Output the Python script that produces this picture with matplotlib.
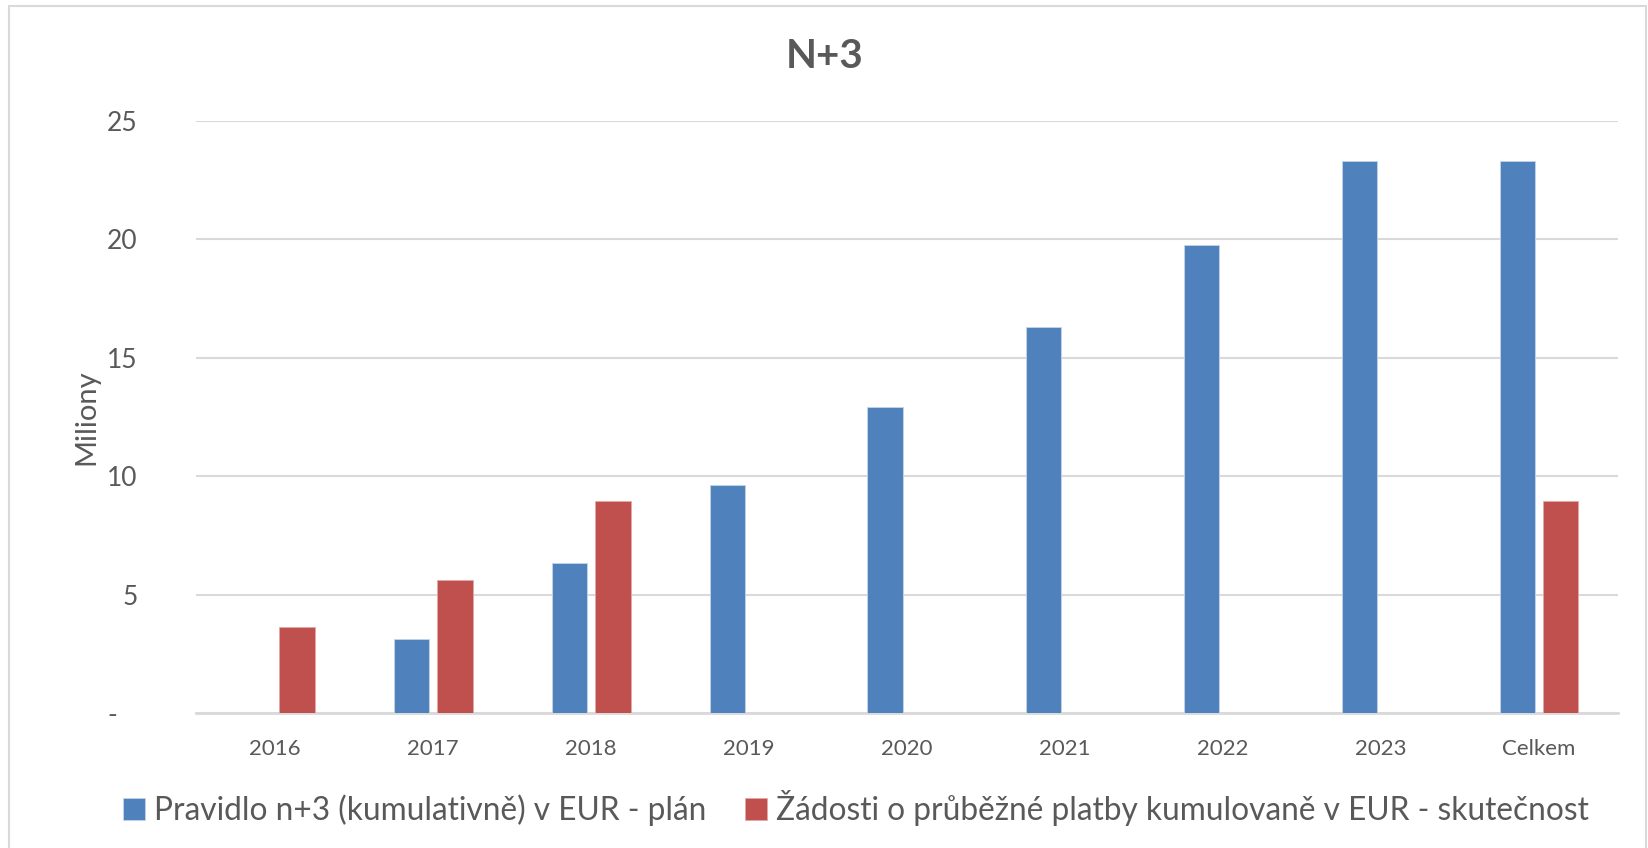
import matplotlib
matplotlib.use('Agg')
import matplotlib.pyplot as plt
import numpy as np
from matplotlib.patches import Rectangle

# data (miliony EUR)
categories = ['2016', '2017', '2018', '2019', '2020', '2021', '2022', '2023', 'Celkem']
plan = [0, 3.14, 6.32, 9.61, 12.94, 16.32, 19.78, 23.32, 23.32]
skutecnost = [3.63, 5.62, 8.97, 0, 0, 0, 0, 0, 8.97]
series_names = ['Pravidlo n+3 (kumulativně) v EUR - plán',
                'Žádosti o průběžné platby kumulovaně v EUR - skutečnost']
y_ticks = [0, 5, 10, 15, 20, 25]
y_tick_labels = ['-   ', '5', '10', '15', '20', '25']

BLUE = '#4f81bd'
RED = '#c0504d'
TXT = '#595959'
GRID = '#d9d9d9'

plt.rcParams['font.family'] = ['Lato', 'DejaVu Sans']

fig = plt.figure(figsize=(16.49, 8.48), dpi=100)
fig.patches.append(Rectangle((9 / 1649, -0.01), (1646 - 9) / 1649, 1.01 - 6 / 848,
                             transform=fig.transFigure, fill=False,
                             edgecolor=GRID, linewidth=1.5))

ax = fig.add_axes([196 / 1649, 1 - 713 / 848, (1618 - 196) / 1649, (713 - 121) / 848])

x = np.arange(len(categories))
w = 0.222
off = 0.139
ax.bar(x - off, plan, w, color=BLUE, edgecolor='#c6d5e8', linewidth=0.6, label=series_names[0], zorder=3)
ax.bar(x + off, skutecnost, w, color=RED, edgecolor='#e3a9a7', linewidth=0.6, label=series_names[1], zorder=3)

ax.set_xlim(-0.5, len(categories) - 0.5)
ax.set_ylim(0, 25)
ax.set_yticks(y_ticks)
ax.set_yticklabels(y_tick_labels)
ax.set_xticks(x)
ax.set_xticklabels(categories)
ax.grid(axis='y', color=GRID, linewidth=1.5, zorder=0)
for s in ['top', 'right', 'left']:
    ax.spines[s].set_visible(False)
ax.spines['bottom'].set_color(GRID)
ax.spines['bottom'].set_linewidth(2)
ax.tick_params(axis='both', length=0, colors=TXT)
ax.tick_params(axis='y', labelsize=19, pad=42)
ax.tick_params(axis='x', labelsize=16, pad=19)

ax.set_ylabel('Miliony', fontsize=21, color=TXT)
ax.yaxis.set_label_coords(-0.068, 0.5)

fig.text(0.5, 1 - 57 / 848, 'N+3', ha='center', va='center', fontsize=29,
         fontweight='bold', color=TXT)

leg = fig.legend(loc='center', bbox_to_anchor=(856 / 1649, 1 - 808 / 848), ncol=2,
                 frameon=False, fontsize=22.8, handlelength=0.7, handleheight=0.7,
                 handletextpad=0.3, columnspacing=1.2, labelcolor=TXT)

fig.savefig('out.png', dpi=100)
